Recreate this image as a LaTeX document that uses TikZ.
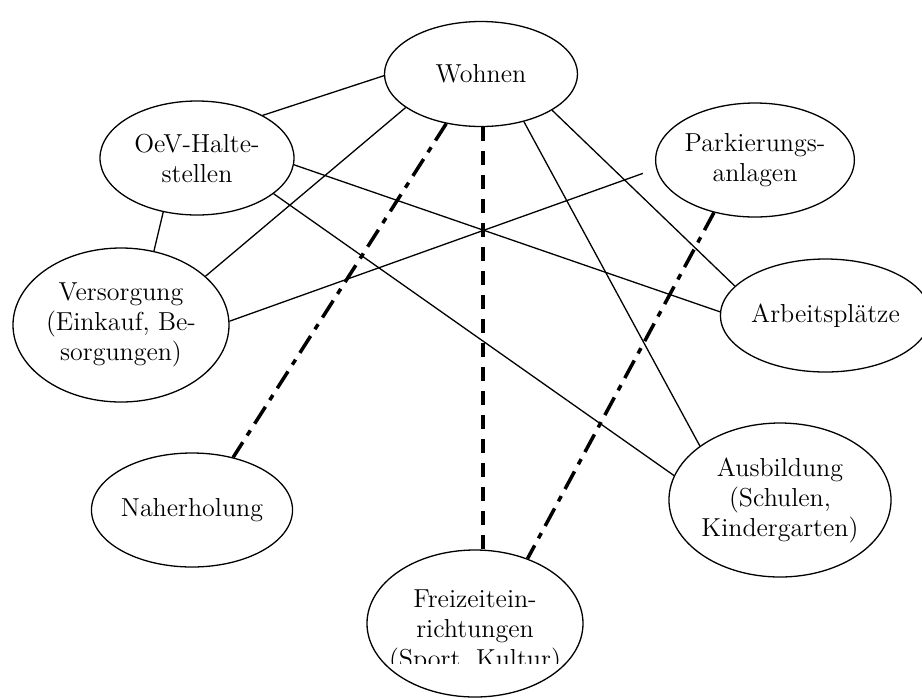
\documentclass[tikz,border=0pt]{standalone}
\usetikzlibrary{shapes.geometric}
\begin{document}
\begin{tikzpicture}[x=0.5pt,y=-0.5pt,
  ell/.style={ellipse, draw, line width=0.65pt, inner sep=0pt, align=center,
    font=\fontsize{13}{15}\selectfont},
  lbl/.style={align=center, inner sep=0pt, font=\fontsize{13}{15}\selectfont},
  conn/.style={line width=0.65pt},
  dashdotline/.style={line width=1.75pt, dash pattern=on 10pt off 4pt on 3pt off 4pt},
  dashline/.style={line width=1.75pt, dash pattern=on 7pt off 5pt}]
\fill[white] (0,0) rectangle (922,698);
\useasboundingbox (0,0) rectangle (922,698);

\node[ell, minimum width=96.5pt, minimum height=52.5pt] (wohnen) at (481,74) {Wohnen};
\node[ell, minimum width=97pt, minimum height=57pt] (oev) at (197,158) {OeV-Halte-\\stellen};
\node[ell, minimum width=108pt, minimum height=77pt] (vers) at (121,325) {Versorgung\\(Einkauf, Be-\\sorgungen)};
\node[ell, minimum width=95pt, minimum height=57pt] (park) at (755,160) {Parkierungs-\\anlagen};
\node[ell, minimum width=94.5pt, minimum height=56.5pt] (arb) at (825.5,315.5) {Arbeitspl\"atze};
\node[ell, minimum width=107.5pt, minimum height=77pt] (ausb) at (780,500) {Ausbildung\\(Schulen,\\Kindergarten)};
\node[ell, minimum width=96pt, minimum height=57pt] (naher) at (192,510) {Naherholung};
\node[ell, minimum width=108pt, minimum height=73.5pt] (frei) at (475,623.5) {};
\begin{scope}
  \clip (0,0) rectangle (922,663);
  \node[lbl] (freitext) at (475,632) {Freizeitein-\\richtungen\\(Sport, Kultur)};
\end{scope}

\draw[conn] (oev.33) -- (wohnen.181);
\draw[conn] (oev.238.6) -- (vers.66.7);
\draw[conn] (vers.30) -- (wohnen.204);
\draw[conn, shorten >=7pt] (vers.2) -- (park.185);
\draw[conn] (oev.356) -- (arb.178);
\draw[conn] (oev.335) -- (ausb.167);
\draw[conn] (wohnen.333) -- (arb.162);
\draw[conn] (wohnen.312) -- (ausb.146);
\draw[dashdotline] (wohnen.235) -- (naher.52);
\draw[dashline] (wohnen.272) -- (wohnen.272 |- frei.north);
\draw[dashdotline] (park.232) -- (frei.51);
\end{tikzpicture}
\end{document}
